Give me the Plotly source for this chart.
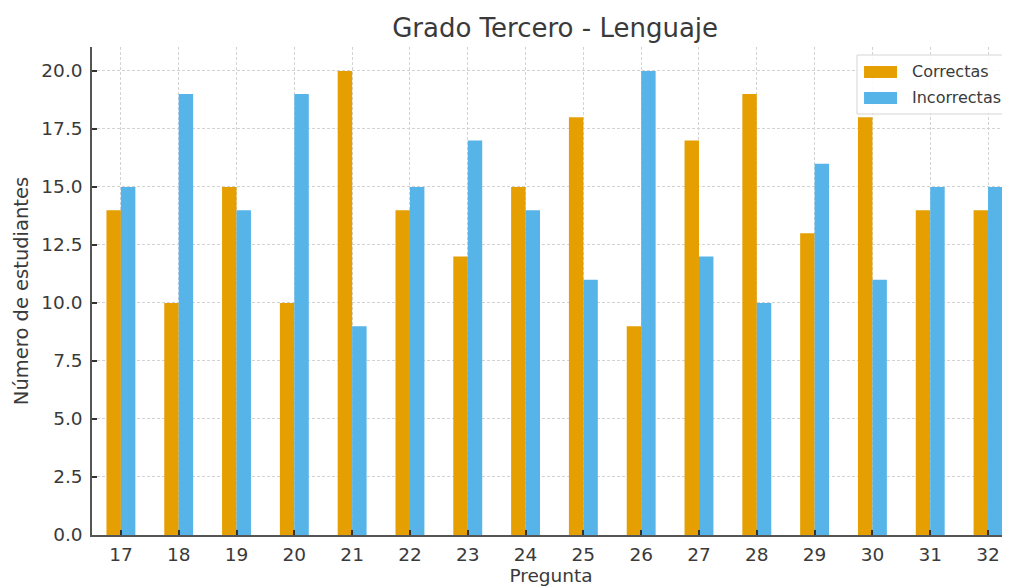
import plotly.graph_objects as go

preguntas = ["17", "18", "19", "20", "21", "22", "23", "24", "25", "26", "27", "28", "29", "30", "31", "32"]
correctas = [14, 10, 15, 10, 20, 14, 12, 15, 18, 9, 17, 19, 13, 18, 14, 14]
incorrectas = [15, 19, 14, 19, 9, 15, 17, 14, 11, 20, 12, 10, 16, 11, 15, 15]
series_names = ["Correctas", "Incorrectas"]
series_colors = ["#E69F00", "#56B4E9"]

xpos = list(range(len(preguntas)))

fig = go.Figure()
for name, vals, col in zip(series_names, [correctas, incorrectas], series_colors):
    fig.add_trace(go.Bar(x=xpos, y=vals, name=name, marker_color=col,
                         marker_line_width=0, showlegend=False))

font_family = "DejaVu Sans, sans-serif"
txt = "#3a3a3a"

# manual legend (matplotlib-style wide patches)
shapes = [dict(type="rect", xref="paper", yref="paper", x0=0.8333, x1=0.9967, y0=0.8627, y1=0.9836,
               line=dict(color="#d5d5d5", width=1), fillcolor="rgba(255,255,255,0.85)", layer="above")]
annotations = []
rows = [(0.9611, 0.9365), (0.9078, 0.8832)]
for (y1, y0), name, col in zip(rows, series_names, series_colors):
    shapes.append(dict(type="rect", xref="paper", yref="paper", x0=0.8410, x1=0.8769, y0=y0, y1=y1,
                       line=dict(width=0), fillcolor=col, layer="above"))
    annotations.append(dict(text=name, xref="paper", yref="paper", x=0.8911, y=(y0 + y1) / 2,
                            xanchor="left", yanchor="middle", showarrow=False,
                            font=dict(size=16, color=txt)))

fig.update_layout(
    width=1002, height=578,
    barmode="group", bargap=0.5, bargroupgap=0,
    plot_bgcolor="white", paper_bgcolor="white",
    margin=dict(l=84, r=0, t=39, b=51, autoexpand=False),
    font=dict(family=font_family, color=txt, size=18),
    title=dict(text="Grado Tercero - Lenguaje", x=0.546, xanchor="center", y=0.9654, yanchor="middle",
               font=dict(size=26, color=txt)),
    shapes=shapes,
    annotations=annotations,
    xaxis=dict(
        tickmode="array", tickvals=xpos, ticktext=preguntas,
        range=[-0.5, 15.38],
        showline=True, linecolor="#555555", linewidth=1.5,
        ticks="inside", ticklen=5, tickcolor="#333333", tickwidth=1.5,
        showgrid=True, gridcolor="#d3d3d3", griddash="3px,2px", gridwidth=1,
        tickfont=dict(size=18.5),
        ticklabelstandoff=2,
        title=dict(text="Pregunta", font=dict(size=18.5), standoff=4),
        zeroline=False,
    ),
    yaxis=dict(
        range=[0, 21.03], dtick=2.5, tickformat=".1f",
        showline=True, linecolor="#555555", linewidth=1.5,
        ticks="inside", ticklen=5, tickcolor="#333333", tickwidth=1.5,
        showgrid=True, gridcolor="#d3d3d3", griddash="3px,2px", gridwidth=1,
        tickfont=dict(size=18.5),
        ticklabelstandoff=4,
        title=dict(text="Número de estudiantes", font=dict(size=19.5), standoff=8),
        zeroline=False,
    ),
)

fig.write_html("out.html")
